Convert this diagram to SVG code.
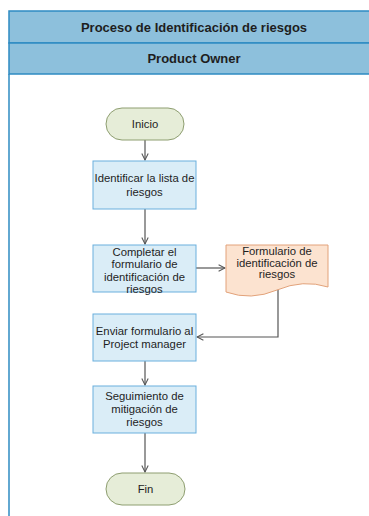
<svg xmlns="http://www.w3.org/2000/svg" width="369" height="516" viewBox="0 0 369 516">
  <style>
    text { font-family: "Liberation Sans", Arial, sans-serif; fill: #1e1e1e; text-anchor: middle; dominant-baseline: central; }
    .hdr { fill: #8DC0DC; stroke: #2E8BC2; stroke-width: 1.5; }
    .hdrtxt { font-size: 13px; font-weight: bold; }
    .lbl { font-size: 11.3px; }
    .proc { fill: #DAEDF7; stroke: #6AAFDD; stroke-width: 1; }
    .term { fill: #E6EDD8; stroke: #8E9E70; stroke-width: 1; }
    .doc { fill: #FCE3D0; stroke: #E2A27A; stroke-width: 1; }
    .edge { fill: none; stroke: #555; stroke-width: 1.2; }
  </style>
  <defs>
    <marker id="open" viewBox="0 0 10 10" refX="9" refY="5" markerWidth="8" markerHeight="8" orient="auto" markerUnits="userSpaceOnUse">
      <path d="M1,1 L9,5 L1,9" fill="none" stroke="#555" stroke-width="1.3"/>
    </marker>
  </defs>

  <rect width="369" height="516" fill="#fff"/>

  <!-- pool and lane -->
  <g id="pool">
    <line x1="9" y1="74" x2="9" y2="516" stroke="#2E8BC2" stroke-width="1.5"/>
    <rect class="hdr" x="9" y="11" width="380" height="32"/>
    <text class="hdrtxt" x="194" y="27">Proceso de Identificación de riesgos</text>
  </g>
  <g id="lane">
    <rect class="hdr" x="9" y="43" width="380" height="31"/>
    <text class="hdrtxt" x="194" y="58.5">Product Owner</text>
  </g>

  <!-- connectors -->
  <g id="connectors">
    <path class="edge" d="M145,140 V160" marker-end="url(#open)"/>
    <path class="edge" d="M145,209 V244" marker-end="url(#open)"/>
    <path class="edge" d="M196,268 H225" marker-end="url(#open)"/>
    <path class="edge" d="M278,289 V337 H197" marker-end="url(#open)"/>
    <path class="edge" d="M145,361 V385" marker-end="url(#open)"/>
    <path class="edge" d="M145,433 V472" marker-end="url(#open)"/>
  </g>

  <g id="inicio">
    <rect class="term" x="106" y="108" width="78" height="32" rx="16"/>
    <text class="lbl" x="145" y="124">Inicio</text>
  </g>

  <g id="identificar">
    <rect class="proc" x="93" y="161" width="103" height="48"/>
    <text class="lbl" x="144.5" y="178">Identificar la lista de</text>
    <text class="lbl" x="144.5" y="192">riesgos</text>
  </g>

  <g id="completar">
    <rect class="proc" x="93" y="245" width="103" height="47"/>
    <text class="lbl" x="144.5" y="252">Completar el</text>
    <text class="lbl" x="144.5" y="264">formulario de</text>
    <text class="lbl" x="144.5" y="277">identificación de</text>
    <text class="lbl" x="144.5" y="289">riesgos</text>
  </g>

  <g id="formulario">
    <path class="doc" d="M226,245 H328 V287 Q303,279 277,290 Q251,301 226,292 Z"/>
    <text class="lbl" x="277" y="251">Formulario de</text>
    <text class="lbl" x="277" y="263">identificación de</text>
    <text class="lbl" x="277" y="274">riesgos</text>
  </g>

  <g id="enviar">
    <rect class="proc" x="93" y="314" width="103" height="47"/>
    <text class="lbl" x="144.5" y="331">Enviar formulario al</text>
    <text class="lbl" x="144.5" y="344">Project manager</text>
  </g>

  <g id="seguimiento">
    <rect class="proc" x="93" y="386" width="103" height="47"/>
    <text class="lbl" x="144.5" y="396">Seguimiento de</text>
    <text class="lbl" x="144.5" y="409">mitigación de</text>
    <text class="lbl" x="144.5" y="422">riesgos</text>
  </g>

  <g id="fin">
    <rect class="term" x="106" y="473" width="79" height="32" rx="16"/>
    <text class="lbl" x="145.5" y="489">Fin</text>
  </g>
</svg>
